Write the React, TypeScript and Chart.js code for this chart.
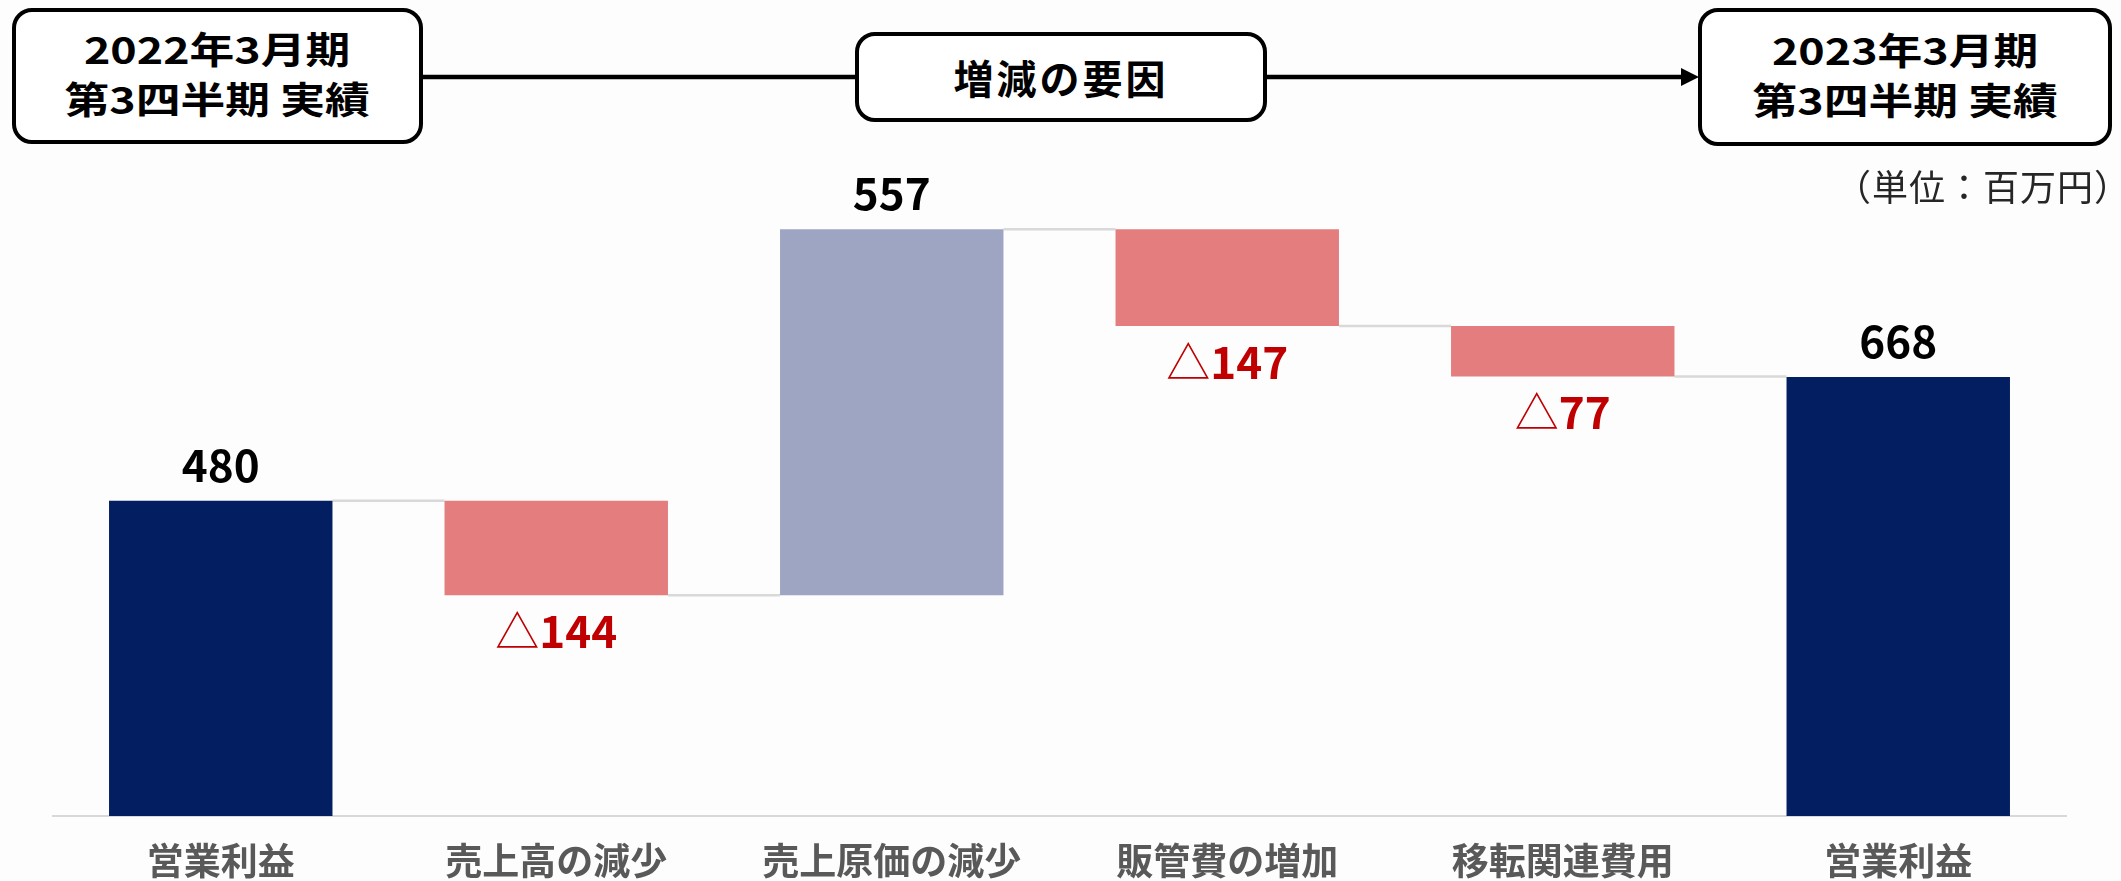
import React, { useEffect, useRef } from 'react';
import { Chart, registerables } from 'chart.js';

Chart.register(...registerables);

// ---- data ----
const categories = ['営業利益', '売上高の減少', '売上原価の減少', '販管費の増加', '移転関連費用', '営業利益'];
const amounts = [480, -144, 557, -147, -77, 668];
const kinds = ['total', 'change', 'change', 'change', 'change', 'total'];
const valueLabels = ['480', '△144', '557', '△147', '△77', '668'];
const headerLeft = ['2022年3月期', '第3四半期 実績'];
const headerMid = '増減の要因';
const headerRight = ['2023年3月期', '第3四半期 実績'];
const unitLabel = '（単位：百万円）';

const FONT = "'Noto Sans CJK JP', 'Noto Sans', sans-serif";
const NAVY = '#041E62';
const UP = '#9DA5C2';
const DOWN = '#E47E7E';
const RED = '#C00000';

export default function App() {
  const ref = useRef<HTMLCanvasElement>(null);

  useEffect(() => {
    let run = 0;
    const ranges: number[][] = [];
    const levels: number[] = [];
    amounts.forEach((v, i) => {
      if (kinds[i] === 'total') {
        ranges.push([0, v]);
        run = v;
      } else {
        const s = run;
        run += v;
        ranges.push([s, run]);
      }
      levels.push(run);
    });
    const colors = amounts.map((v, i) => (kinds[i] === 'total' ? NAVY : v >= 0 ? UP : DOWN));

    const waterfall = {
      id: 'waterfall',
      beforeDatasetsDraw(chart: any) {
        const ctx = chart.ctx;
        const bars = chart.getDatasetMeta(0).data;
        const ys = chart.scales.y;
        ctx.save();
        ctx.strokeStyle = '#D9D9D9';
        ctx.lineWidth = 2.5;
        for (let i = 0; i < bars.length - 1; i++) {
          const a = bars[i];
          const b = bars[i + 1];
          const y = ys.getPixelForValue(levels[i]);
          ctx.beginPath();
          ctx.moveTo(a.x + a.width / 2, y);
          ctx.lineTo(b.x - b.width / 2, y);
          ctx.stroke();
        }
        ctx.restore();
      },
      afterDatasetsDraw(chart: any) {
        const ctx = chart.ctx;
        const bars = chart.getDatasetMeta(0).data;
        const ys = chart.scales.y;
        ctx.save();
        ctx.textBaseline = 'alphabetic';
        bars.forEach((bar: any, i: number) => {
          const [s, e] = ranges[i];
          const neg = kinds[i] !== 'total' && amounts[i] < 0;
          const label = valueLabels[i];
          const prefix = label.startsWith('△') ? '△' : '';
          const num = label.slice(prefix.length);
          const boldFont = `bold 44px ${FONT}`;
          const thinFont = `normal 44px ${FONT}`;
          ctx.font = thinFont;
          const pw = prefix ? ctx.measureText(prefix).width : 0;
          ctx.font = boldFont;
          const nw = ctx.measureText(num).width;
          const total = pw + nw;
          let y: number;
          if (neg) {
            y = ys.getPixelForValue(Math.min(s, e)) + 53;
          } else {
            y = ys.getPixelForValue(Math.max(s, e)) - 19;
          }
          const x0 = bar.x - total / 2;
          ctx.fillStyle = neg ? RED : '#000000';
          ctx.textAlign = 'left';
          if (prefix) {
            ctx.font = thinFont;
            ctx.fillText(prefix, x0, y);
          }
          ctx.font = boldFont;
          ctx.fillText(num, x0 + pw, y);
        });
        ctx.restore();
      },
    };

    const chart = new Chart(ref.current as HTMLCanvasElement, {
      type: 'bar',
      data: {
        labels: categories,
        datasets: [
          {
            data: ranges as any,
            backgroundColor: colors,
            borderWidth: 0,
            barPercentage: 0.666,
            categoryPercentage: 1,
          },
        ],
      },
      options: {
        animation: false,
        responsive: false,
        devicePixelRatio: 1,
        layout: { padding: { left: 53, right: 55, top: 159, bottom: 0 } },
        plugins: { legend: { display: false }, tooltip: { enabled: false } },
        scales: {
          x: {
            grid: { display: false, drawTicks: false, tickLength: 0 },
            border: { display: true, color: '#D9D9D9', width: 2 },
            ticks: {
              color: '#595959',
              font: { family: FONT, size: 37, weight: 'bold', lineHeight: 1 },
              padding: 26,
              maxRotation: 0,
              autoSkip: false,
            },
          },
          y: { display: false, min: 0, max: 1000 },
        },
      },
      plugins: [waterfall],
    });
    return () => chart.destroy();
  }, []);

  const box = (left: number, top: number, width: number, height: number): React.CSSProperties => ({
    position: 'absolute',
    left,
    top,
    width,
    height,
    boxSizing: 'border-box',
    border: '4px solid #000',
    borderRadius: 20,
    background: '#fff',
    display: 'flex',
    alignItems: 'center',
    justifyContent: 'center',
  });

  const headText: React.CSSProperties = {
    fontFamily: FONT,
    fontWeight: 700,
    fontSize: 37,
    lineHeight: '50px',
    textAlign: 'center',
    color: '#000',
    transform: 'translateY(-3px) scaleX(1.21)',
    whiteSpace: 'nowrap',
  };

  return (
    <div style={{ position: 'absolute', left: 0, top: 0, width: 2121, height: 881, background: '#FDFDFD', overflow: 'hidden' }}>
      <canvas ref={ref} width={2121} height={905} style={{ position: 'absolute', left: 0, top: 0, width: 2121, height: 905 }} />
      <svg width={2121} height={160} style={{ position: 'absolute', left: 0, top: 0 }}>
        <line x1={420} y1={77} x2={860} y2={77} stroke="#000" strokeWidth={4.5} />
        <line x1={1264} y1={77} x2={1684} y2={77} stroke="#000" strokeWidth={4.5} />
        <polygon points="1699,77 1681,68 1681,86" fill="#000" />
      </svg>
      <div style={box(12, 8, 411, 136)}>
        <div style={headText}>
          {headerLeft[0]}
          <br />
          {headerLeft[1]}
        </div>
      </div>
      <div style={box(855, 32, 412, 90)}>
        <div style={{ ...headText, fontSize: 40, letterSpacing: 3, transform: 'none', lineHeight: '48px' }}>{headerMid}</div>
      </div>
      <div style={box(1698, 8, 414, 138)}>
        <div style={headText}>
          {headerRight[0]}
          <br />
          {headerRight[1]}
        </div>
      </div>
      <div
        style={{
          position: 'absolute',
          right: -10,
          top: 162,
          fontFamily: FONT,
          fontSize: 36,
          letterSpacing: 1,
          lineHeight: '46px',
          color: '#262626',
          whiteSpace: 'nowrap',
        }}
      >
        {unitLabel}
      </div>
    </div>
  );
}
